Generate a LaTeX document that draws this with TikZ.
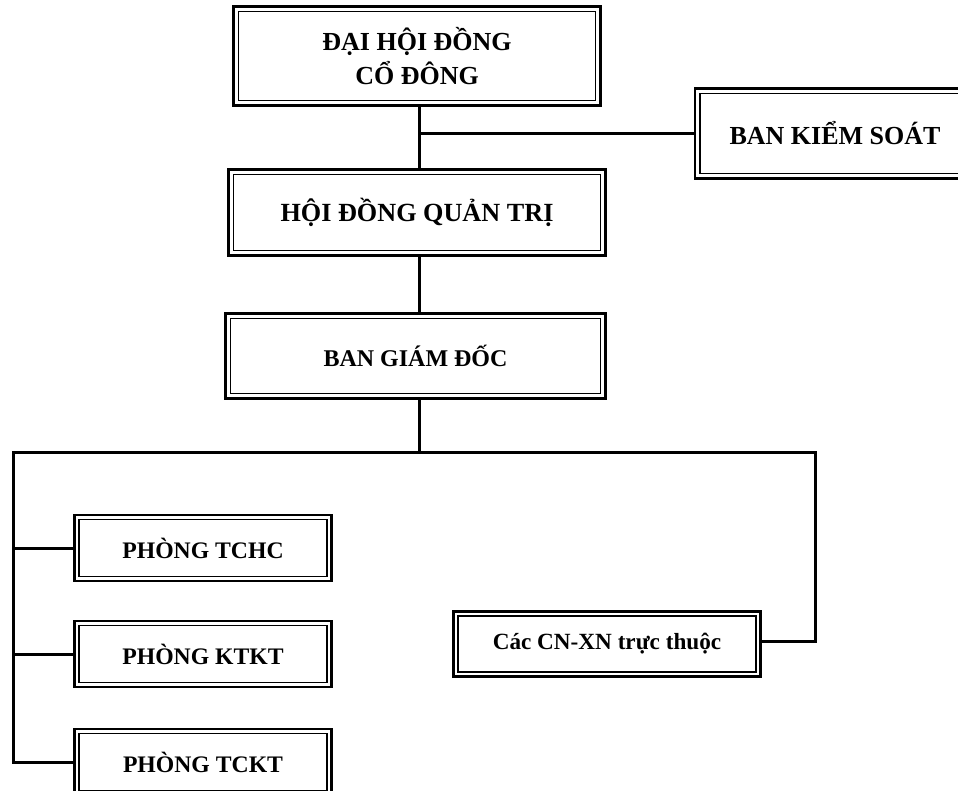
\documentclass[tikz,border=0pt]{standalone}
\usepackage{fontspec}
\setmainfont{Liberation Serif}
\begin{document}
\begin{tikzpicture}[x=1pt,y=-1pt,
  box/.style={draw, line width=2.8pt, inner sep=0pt, outer sep=0pt, align=center,
    font=\bfseries\fontsize{26}{34}\selectfont},
  smallbox/.style={box, font=\bfseries\fontsize{23.7}{27}\selectfont},
  inner/.style={line width=1.3pt},
  conn/.style={line width=3pt}]
\useasboundingbox (0,0) rectangle (958,791);
\fill[white] (0,0) rectangle (958,791);

\node[box, minimum width=367, minimum height=99] (dh) at (417,56) {ĐẠI HỘI ĐỒNG\\CỔ ĐÔNG};
\node[box, minimum width=280, minimum height=90] (bks) at (835,133.5) {\raisebox{2pt}{BAN KIỂM SOÁT}};
\node[box, font=\bfseries\fontsize{26.2}{30}\selectfont, minimum width=377, minimum height=86] (hd) at (417,212.5) {HỘI ĐỒNG QUẢN TRỊ};
\node[box, font=\bfseries\fontsize{24}{28}\selectfont, minimum width=380, minimum height=85] (bgd) at (415.5,356) {BAN GIÁM ĐỐC};
\node[smallbox, minimum width=257, minimum height=66] (tchc) at (203,548) {PHÒNG TCHC};
\node[smallbox, minimum width=257, minimum height=66] (ktkt) at (203,654) {PHÒNG KTKT};
\node[smallbox, minimum width=257, minimum height=66] (tckt) at (203,762) {PHÒNG TCKT};
\node[smallbox, font=\bfseries\fontsize{23.2}{27}\selectfont, minimum width=307, minimum height=65] (cn) at (607,644) {\raisebox{-5pt}{Các CN-XN trực thuộc}};

\foreach \n/\d in {dh/5,bks/5,hd/5,bgd/5,tchc/4.5,ktkt/4.5,tckt/4.5,cn/4.5}{
  \draw[inner] ([shift={(\d,\d)}]\n.north west) rectangle ([shift={(-\d,-\d)}]\n.south east);
}

\coordinate (tj) at (419,133.5);
\coordinate (bj) at (419,452);
\coordinate (lj) at (13,452);
\coordinate (rj) at (815,452);
\coordinate (lb) at (13,762);
\coordinate (rb) at (815,641);

\draw[conn] (dh.south -| tj) -- (hd.north -| tj);
\draw[conn] (tj) -- (bks.west);
\draw[conn] (hd.south -| tj) -- (bgd.north -| tj);
\draw[conn] (bgd.south -| bj) -- (bj);
\draw[conn, line cap=rect] (lb) -- (lj) -- (rj) -- (rb) -- (cn.east |- rb);
\draw[conn] (lj |- tchc.west) -- (tchc.west);
\draw[conn] (lj |- ktkt.west) -- (ktkt.west);
\draw[conn] (lb) -- (tckt.west);
\end{tikzpicture}
\end{document}
